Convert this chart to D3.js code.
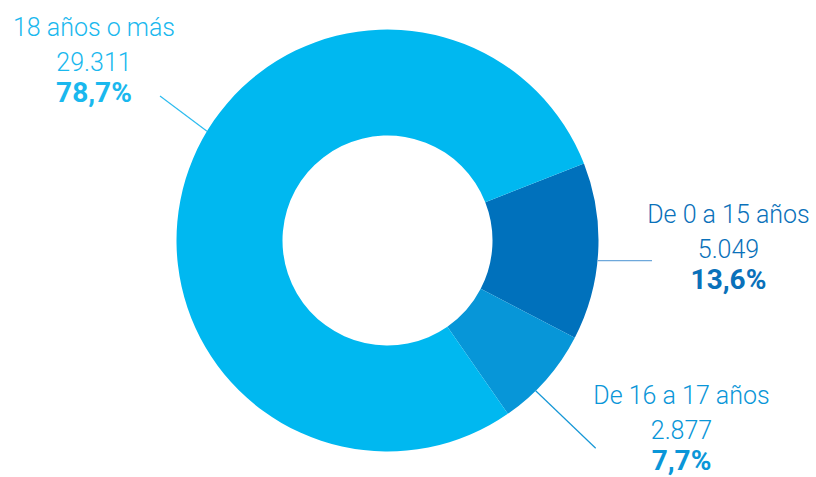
<!DOCTYPE html>
<html>
<head>
<meta charset="utf-8">
<script src="https://cdn.jsdelivr.net/npm/d3@7"></script>
<style>
  html, body { margin: 0; padding: 0; background: #fff; }
  svg { display: block; }
  text { font-family: Roboto, "Open Sans", sans-serif; }
</style>
</head>
<body>
<svg id="chart" width="816" height="477"></svg>
<script>
// Population by age group
const categories = ["De 0 a 15 años", "De 16 a 17 años", "18 años o más"];
const values = [5049, 2877, 29311];
const percentLabels = ["13,6%", "7,7%", "78,7%"];

const sliceColors = ["#0071bc", "#0796d8", "#00b8f0"];
const textColors = ["#0a71ba", "#0a96d8", "#1ab8ee"];
const lineColors = ["#6ea8db", "#1597d6", "#2dbcef"];

const es = d3.formatLocale({ decimal: ",", thousands: ".", grouping: [3], currency: ["", " €"] });
const fmtInt = es.format(",d");

const width = 816, height = 477;
const cx = 387.5, cy = 240.5;
const outerR = 211, innerR = 105;
const deg = Math.PI / 180;

const svg = d3.select("#chart");
const g = svg.append("g").attr("transform", `translate(${cx},${cy})`);

const pie = d3.pie()
  .sort(null)
  .value(d => d)
  .startAngle(68.6 * deg)
  .endAngle(68.6 * deg + 2 * Math.PI);

const arcs = pie(values);
const arc = d3.arc().innerRadius(innerR).outerRadius(outerR);

g.selectAll("path.slice")
  .data(arcs)
  .join("path")
  .attr("class", "slice")
  .attr("d", arc)
  .attr("fill", (d, i) => sliceColors[i]);

// Label layout: leader line angle on the ring, line end, and text block
const layout = [
  { angle: 95.5, end: [652, 260.7], x: 728.5, y: 223 },
  { angle: 135.4, end: [595.7, 448.3], x: 681.5, y: 404 },
  { angle: 301.2, end: [160, 96], x: 94, y: 36 }
];

const point = (a, r) => [cx + r * Math.sin(a * deg), cy - r * Math.cos(a * deg)];

layout.forEach((l, i) => {
  const p0 = point(l.angle, outerR);
  svg.append("line")
    .attr("x1", p0[0]).attr("y1", p0[1])
    .attr("x2", l.end[0]).attr("y2", l.end[1])
    .attr("stroke", lineColors[i])
    .attr("stroke-width", 1.2);

  const t = svg.append("g").attr("fill", textColors[i]).attr("text-anchor", "middle");
  t.append("text")
    .attr("x", l.x).attr("y", l.y)
    .attr("font-size", 25).attr("font-weight", 300)
    .text(categories[i]);
  t.append("text")
    .attr("x", l.x).attr("y", l.y + 35)
    .attr("font-size", 25).attr("font-weight", 300)
    .text(fmtInt(values[i]));
  t.append("text")
    .attr("x", l.x).attr("y", l.y + 66)
    .attr("font-size", 28).attr("font-weight", 700)
    .text(percentLabels[i]);
});
</script>
</body>
</html>
